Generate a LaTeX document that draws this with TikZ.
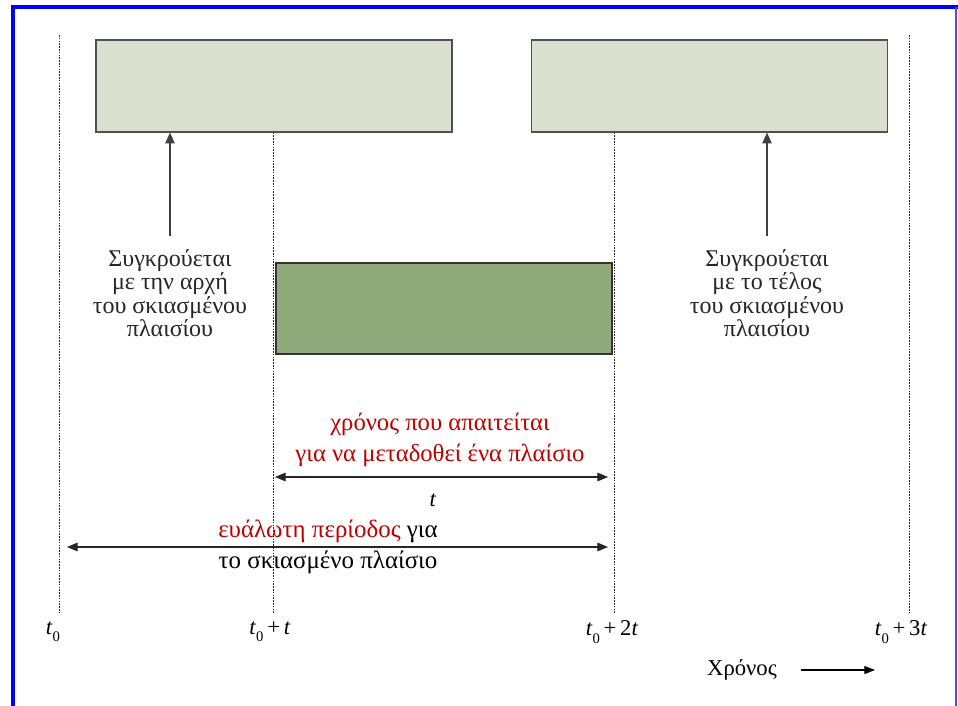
\documentclass[tikz,border=0pt]{standalone}
\usepackage{fontspec}
\setmainfont{Liberation Serif}
\usetikzlibrary{arrows.meta, calc, positioning}
\definecolor{paleframe}{RGB}{217,224,208}
\definecolor{shadedframe}{RGB}{145,170,124}
\definecolor{vulnred}{RGB}{192,0,0}
\definecolor{edgegray}{RGB}{80,80,80}
\newcommand{\tzero}{\textit{t}\raisebox{-0.7ex}{\fontsize{11}{11}\selectfont 0}}
\tikzset{
  frm/.style     ={draw=edgegray, fill=paleframe, line width=0.9pt, minimum width=267pt, minimum height=69pt, inner sep=0pt},
  shfrm/.style   ={draw=black!80, fill=shadedframe, line width=0.9pt, minimum width=252pt, minimum height=68.25pt, inner sep=0pt},
  tline/.style   ={dash pattern=on 1.2pt off 0.9pt, line width=0.6pt, black!85},
  hitarr/.style  ={-{Triangle[length=8pt, width=7pt]}, line width=0.8pt, black!75},
  spanarr/.style ={{Triangle[length=8pt, width=6.5pt]}-{Triangle[length=8pt, width=6.5pt]}, line width=0.8pt, black!85},
  hitlbl/.style  ={align=center, font=\fontsize{18}{17.6}\selectfont, inner sep=0pt, text=black!85},
  spanlbl/.style ={align=center, font=\fontsize{18.5}{22.8}\selectfont, inner sep=0pt},
  tlbl/.style    ={font=\fontsize{17}{17}\selectfont, inner sep=0pt},
}

\begin{document}
\begin{tikzpicture}[x=0.75pt, y=-0.75pt]
  \useasboundingbox (0,0) rectangle (958,706);
  % page frame
  \draw[blue, line width=3pt] (13,706) -- (13,7) -- (958,7);
  \draw[blue!70, line width=1pt] (956,7) -- (956,706);

  % frames
  \node[frm] (frmL) at (274,86) {};
  \node[frm] (frmR) at (709.5,86) {};
  \node[shfrm] (frmS) at (444,308.5) {};

  % time marks
  \coordinate (t0top) at (59,35);
  \coordinate (t0bot) at (59,613);
  \coordinate (t1bot) at (273,613);
  \coordinate (t2bot) at (614,613);
  \coordinate (t3top) at (909,35);
  \coordinate (t3bot) at (909,613);
  \draw[tline] (t0top) -- (t0bot);
  \draw[tline] (frmL.south -| t1bot) -- (t1bot);
  \draw[tline] (frmR.south -| t2bot) -- (t2bot);
  \draw[tline] (t3top) -- (t3bot);

  % collision notes
  \node[hitlbl] (hitL) at (170,293) {Συγκρούεται\\με την αρχή\\του σκιασμένου\\πλαισίου};
  \node[hitlbl] (hitR) at (767,293) {Συγκρούεται\\με το τέλος\\του σκιασμένου\\πλαισίου};
  \draw[hitarr] ([yshift=10pt]hitL.north) -- (hitL.north |- frmL.south);
  \draw[hitarr] ([yshift=10pt]hitR.north) -- (hitR.north |- frmR.south);

  % frame time
  \node[spanlbl, text=vulnred] (txlbl) at (440,440) {χρόνος που απαιτείται\\για να μεταδοθεί ένα πλαίσιο};
  \coordinate (txa) at (275,477);
  \coordinate (txb) at (608,477);
  \draw[spanarr] (txa) -- (txb);
  \node[tlbl] (tt) at (433,500) {\textit{t}};

  % vulnerable period
  \coordinate (vpa) at (67,547);
  \coordinate (vpb) at (608,547);
  \draw[spanarr] (vpa) -- (vpb);
  \node[spanlbl, font=\fontsize{18.7}{23.5}\selectfont] (vplbl) at (328,547) {\textcolor{vulnred}{ευάλωτη περίοδος} για\\το σκιασμένο πλαίσιο};

  % axis labels
  \node[tlbl] (l0) at (53,632) {\tzero};
  \node[tlbl] (l1) at (270,632) {\tzero\,+\,\textit{t}};
  \node[tlbl] (l2) at (612,632) {\tzero\,+\,2\textit{t}};
  \node[tlbl] (l3) at (901,632) {\tzero\,+\,3\textit{t}};
  \node[tlbl] (axis) at (742,670) {Χρόνος};
  \coordinate (axend) at (875,670);
  \draw[-{Triangle[length=8pt, width=6pt]}, line width=0.8pt] ([xshift=18pt]axis.east) -- (axend);
\end{tikzpicture}
\end{document}
